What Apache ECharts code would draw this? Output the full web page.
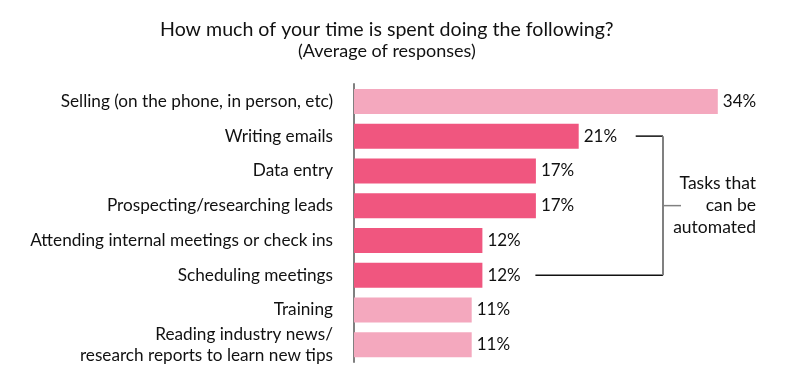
<!DOCTYPE html>
<html><head><meta charset="utf-8">
<script src="https://cdn.jsdelivr.net/npm/echarts@6/dist/echarts.min.js"></script>
<style>html,body{margin:0;padding:0;background:#fff}#c{width:788px;height:380px}</style>
</head><body><div id="c"></div>
<script>
const categories = [
  "Selling (on the phone, in person, etc)",
  "Writing emails",
  "Data entry",
  "Prospecting/researching leads",
  "Attending internal meetings or check ins",
  "Scheduling meetings",
  "Training",
  "Reading industry news/\nresearch reports to learn new tips"
];
const values = [34, 21, 17, 17, 12, 12, 11, 11];
const automatable = [false, true, true, true, true, true, false, false];
const titleText = "How much of your time is spent doing the following?";
const subtitleText = "(Average of responses)";
const bracketText = "Tasks that\ncan be\nautomated";

const LIGHT = "#F4A8BE", DARK = "#F0567F";
const FONT = "Lato, 'Noto Sans', sans-serif";
const chart = echarts.init(document.getElementById('c'), null, {renderer: 'canvas'});
chart.setOption({
  animation: false,
  title: [
    {text: titleText, left: 155, top: 15,
     textStyle: {fontFamily: FONT, fontSize: 19.6, fontWeight: 'normal', color: '#111'}},
    {text: subtitleText, left: 293, top: 37,
     textStyle: {fontFamily: FONT, fontSize: 18, fontWeight: 'normal', color: '#111'}}
  ],
  grid: {left: 354, right: 6, top: 84, bottom: 18, containLabel: false},
  xAxis: {type: 'value', min: 0, max: 40, show: false},
  yAxis: {
    type: 'category', data: categories, inverse: true,
    axisLine: {show: true, lineStyle: {color: '#808080', width: 2}},
    axisTick: {show: false},
    axisLabel: {margin: 21, fontFamily: FONT, fontSize: 17.2, color: '#111', lineHeight: 21, align: 'right'}
  },
  series: [{
    type: 'bar', barWidth: 25,
    data: values.map((v, i) => ({value: v, itemStyle: {color: automatable[i] ? DARK : LIGHT}})),
    label: {show: true, position: 'right', distance: 5, formatter: '{c}%', fontFamily: FONT, fontSize: 17, color: '#111'}
  }]
});

function drawBracket() {
  const idx = automatable.map((a, i) => a ? i : -1).filter(i => i >= 0);
  const first = idx[0], last = idx[idx.length - 1];
  const yTop = chart.convertToPixel({yAxisIndex: 0}, first);
  const yBot = chart.convertToPixel({yAxisIndex: 0}, last);
  const xTopStart = chart.convertToPixel({xAxisIndex: 0}, values[first]) + 57;
  const xBotStart = chart.convertToPixel({xAxisIndex: 0}, values[last]) + 53;
  const xV = 663;
  const yMid = (yTop + yBot) / 2;
  chart.setOption({graphic: [
    {type: 'line', shape: {x1: xTopStart, y1: yTop, x2: xV, y2: yTop}, style: {stroke: '#111', lineWidth: 1.5}},
    {type: 'line', shape: {x1: xBotStart, y1: yBot, x2: xV, y2: yBot}, style: {stroke: '#111', lineWidth: 1.5}},
    {type: 'line', shape: {x1: xV, y1: yTop, x2: xV, y2: yBot}, style: {stroke: '#808080', lineWidth: 2}},
    {type: 'line', shape: {x1: xV, y1: yMid, x2: xV + 18, y2: yMid}, style: {stroke: '#808080', lineWidth: 1.5}},
    {type: 'text', x: 756, y: yMid, style: {text: bracketText, align: 'right', verticalAlign: 'middle', fontFamily: FONT, fontSize: 17.5, lineHeight: 22, fill: '#111'}}
  ]});
}
drawBracket();
</script></body></html>
